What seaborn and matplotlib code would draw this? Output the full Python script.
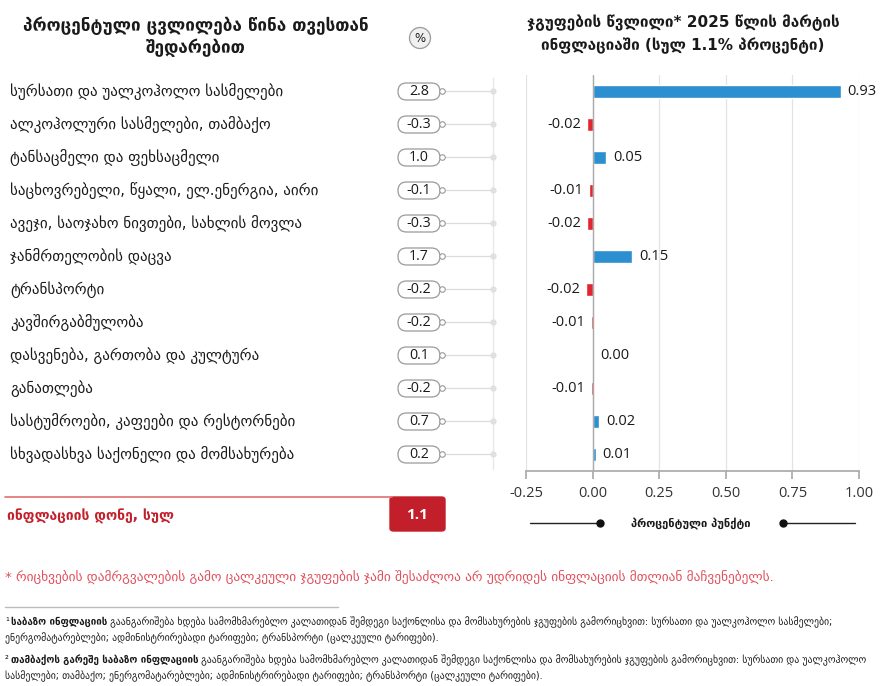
import matplotlib
matplotlib.use("Agg")
import matplotlib.pyplot as plt
from matplotlib.patches import FancyBboxPatch, Circle
from matplotlib.lines import Line2D
import seaborn as sns
import pandas as pd

# ---------------- data ----------------
categories = [
    "სურსათი და უალკოჰოლო სასმელები",
    "ალკოჰოლური სასმელები, თამბაქო",
    "ტანსაცმელი და ფეხსაცმელი",
    "საცხოვრებელი, წყალი, ელ.ენერგია, აირი",
    "ავეჯი, საოჯახო ნივთები, სახლის მოვლა",
    "ჯანმრთელობის დაცვა",
    "ტრანსპორტი",
    "კავშირგაბმულობა",
    "დასვენება, გართობა და კულტურა",
    "განათლება",
    "სასტუმროები, კაფეები და რესტორნები",
    "სხვადასხვა საქონელი და მომსახურება",
]
pct_change = [2.8, -0.3, 1.0, -0.1, -0.3, 1.7, -0.2, -0.2, 0.1, -0.2, 0.7, 0.2]
contribution = [0.931, -0.022, 0.050, -0.014, -0.022, 0.148, -0.024, -0.006, 0.001, -0.006, 0.024, 0.012]
total_inflation = 1.1
x_ticks = [-0.25, 0.0, 0.25, 0.50, 0.75, 1.00]

title_left = ["პროცენტული ცვლილება წინა თვესთან", "შედარებით"]
title_right = ["ჯგუფების წვლილი* 2025 წლის მარტის", "ინფლაციაში (სულ 1.1% პროცენტი)"]
total_label = "ინფლაციის დონე, სულ"
axis_caption = "პროცენტული პუნქტი"
note_red = "* რიცხვების დამრგვალების გამო ცალკეული ჯგუფების ჯამი შესაძლოა არ უდრიდეს ინფლაციის მთლიან მაჩვენებელს."
foot1_bold = "საბაზო ინფლაციის"
foot1_lines = [" გაანგარიშება ხდება სამომხმარებლო კალათიდან შემდეგი საქონლისა და მომსახურების ჯგუფების გამორიცხვით: სურსათი და უალკოჰოლო სასმელები;",
               "ენერგომატარებლები; ადმინისტრირებადი ტარიფები; ტრანსპორტი (ცალკეული ტარიფები)."]
foot2_bold = "თამბაქოს გარეშე საბაზო ინფლაციის"
foot2_lines = [" გაანგარიშება ხდება სამომხმარებლო კალათიდან შემდეგი საქონლისა და მომსახურების ჯგუფების გამორიცხვით: სურსათი და უალკოჰოლო",
               "სასმელები; თამბაქო; ენერგომატარებლები; ადმინისტრირებადი ტარიფები; ტრანსპორტი (ცალკეული ტარიფები)."]

BLUE = "#2b8fd0"
RED = "#e0262e"
DARKRED = "#c21f2b"
TXT = "#1a1a1a"

sns.set_theme(style="white")
plt.rcParams["font.family"] = ["DejaVu Sans"]

W, H = 883, 686
fig = plt.figure(figsize=(W / 100, H / 100), dpi=100)
fig.patch.set_facecolor("white")

def fx(px):
    return px / W

def fy(py):
    return 1 - py / H

ax_top, ax_bot = 75, 471
ax_l_px, ax_r_px = 526, 859

# ---------------- right bar chart ----------------
ax = fig.add_axes([fx(ax_l_px), fy(ax_bot), fx(ax_r_px) - fx(ax_l_px), (ax_bot - ax_top) / H])
df = pd.DataFrame({"cat": categories, "val": contribution,
                   "sign": ["pos" if v >= 0 else "neg" for v in contribution]})
sns.barplot(data=df, y="cat", x="val", hue="sign", order=categories,
            palette={"pos": BLUE, "neg": RED}, dodge=False, width=0.42,
            saturation=1, legend=False, ax=ax, orient="h")
ax.set_xlim(x_ticks[0], x_ticks[-1])
ax.set_ylim(len(categories) - 0.5, -0.5)
ax.set_xticks(x_ticks)
ax.set_xticklabels([f"{t:.2f}" for t in x_ticks], fontfamily="Open Sans", fontsize=10.5, color="#333333")
ax.set_yticks([])
ax.set_xlabel("")
ax.set_ylabel("")
for s in ["top", "right", "left"]:
    ax.spines[s].set_visible(False)
ax.spines["bottom"].set_color("#aaaaaa")
ax.tick_params(axis="x", length=6, color="#aaaaaa", pad=5, bottom=True)
ax.grid(axis="x", color="#e3e3e3", linewidth=0.9)
ax.set_axisbelow(True)
ax.axvline(0, color="#aaaaaa", linewidth=1, zorder=1)
for i, v in enumerate(contribution):
    lab = f"{v:.2f}"
    if v >= 0:
        ax.annotate(lab, (v, i), xytext=(5, 0), textcoords="offset points",
                    ha="left", va="center", fontsize=10.5, fontfamily="Open Sans",
                    color=TXT, annotation_clip=False)
    else:
        ax.annotate(lab, (v, i), xytext=(-4, 0), textcoords="offset points",
                    ha="right", va="center", fontsize=10.5, fontfamily="Open Sans",
                    color=TXT, annotation_clip=False)

# ---------------- left panel ----------------
axl = fig.add_axes([0, fy(ax_bot), fx(ax_l_px), (ax_bot - ax_top) / H])
axl.set_xlim(0, ax_l_px)
axl.set_ylim(len(categories) - 0.5, -0.5)
axl.axis("off")
row_px = (ax_bot - ax_top) / len(categories)
asp = 1 / row_px
axl.plot([493, 493], [-0.4, len(categories) - 0.55], color="#e8e8e8", lw=1, zorder=1)
for i, (c, p) in enumerate(zip(categories, pct_change)):
    axl.text(10, i, c, ha="left", va="center", fontsize=10.8, color=TXT)
    pill = FancyBboxPatch((398, i - 8.5 * asp), 42, 17 * asp,
                          boxstyle="round,pad=0,rounding_size=8.5",
                          mutation_aspect=asp, fc="white", ec="#9a9a9a", lw=0.9, zorder=3)
    axl.add_patch(pill)
    axl.text(419, i, f"{p:.1f}", ha="center", va="center", fontsize=10.3,
             fontfamily="Open Sans", color=TXT, zorder=4)
    axl.plot([443, 493], [i, i], color="#dcdcdc", lw=0.9, zorder=2)
    axl.plot([441.5], [i], marker="o", ms=4, mfc="white", mec="#9a9a9a", mew=0.8, zorder=4)
    axl.plot([493], [i], marker="o", ms=3.5, mfc="#e0e0e0", mec="#e0e0e0", zorder=4)

# ---------------- titles ----------------
fig.text(fx(196), fy(26), title_left[0], ha="center", va="center", fontsize=12.3, fontweight="bold", color=TXT)
fig.text(fx(196), fy(48), title_left[1], ha="center", va="center", fontsize=12.3, fontweight="bold", color=TXT)
fig.text(fx(683), fy(23), title_right[0], ha="center", va="center", fontsize=11, fontweight="bold", color=TXT)
fig.text(fx(683), fy(46), title_right[1], ha="center", va="center", fontsize=11, fontweight="bold", color=TXT)
pct_ax = fig.add_axes([fx(408), fy(50), 24 / W, 24 / H])
pct_ax.set_xlim(0, 24)
pct_ax.set_ylim(0, 24)
pct_ax.axis("off")
pct_ax.add_patch(Circle((12, 12), 10.5, fc="#f0f0f0", ec="#9a9a9a", lw=0.9))
pct_ax.text(12, 12, "%", ha="center", va="center", fontsize=8.5, color=TXT)

# ---------------- total row ----------------
fig.add_artist(Line2D([fx(5), fx(392)], [fy(497), fy(497)], color="#e07070", lw=1.2))
box = FancyBboxPatch((fx(390), fy(531)), fx(445) - fx(390), (531 - 497) / H,
                     boxstyle="round,pad=0,rounding_size=0.004", transform=fig.transFigure,
                     fc=DARKRED, ec=DARKRED)
fig.add_artist(box)
fig.text(fx(417.5), fy(515), f"{total_inflation:.1f}", ha="center", va="center",
         fontsize=11, fontweight="bold", color="white", fontfamily="Open Sans")
fig.text(fx(7), fy(517), total_label, ha="left", va="center", fontsize=10, fontweight="bold", color=DARKRED)

# ---------------- axis caption ----------------
fig.add_artist(Line2D([fx(530), fx(600)], [fy(523), fy(523)], color="#222222", lw=1))
fig.add_artist(Line2D([fx(783), fx(855)], [fy(523), fy(523)], color="#222222", lw=1))
fig.add_artist(Line2D([fx(600)], [fy(523)], marker="o", ms=5, color="#111111", lw=0))
fig.add_artist(Line2D([fx(783)], [fy(523)], marker="o", ms=5, color="#111111", lw=0))
fig.text(fx(691), fy(523), axis_caption, ha="center", va="center", fontsize=8, fontweight="bold", color=TXT)

# ---------------- notes ----------------
fig.text(fx(5), fy(577), note_red, ha="left", va="center", fontsize=9.6, color="#e0505c")
fig.add_artist(Line2D([fx(5), fx(338)], [fy(607), fy(607)], color="#bbbbbb", lw=1))

renderer = fig.canvas.get_renderer()
FS = 7.0

def mixed_line(y_px, sup, bold, rest):
    t0 = fig.text(fx(5), fy(y_px), sup, ha="left", va="center", fontsize=FS, color=TXT)
    bb0 = t0.get_window_extent(renderer)
    t1 = fig.text((bb0.x1 + 2) / W, fy(y_px), bold, ha="left", va="center", fontsize=FS, fontweight="bold", color=TXT)
    bb1 = t1.get_window_extent(renderer)
    fig.text(bb1.x1 / W, fy(y_px), rest, ha="left", va="center", fontsize=FS, color=TXT)

mixed_line(622, "¹", foot1_bold, foot1_lines[0])
fig.text(fx(5), fy(638), foot1_lines[1], ha="left", va="center", fontsize=FS, color=TXT)
mixed_line(660, "²", foot2_bold, foot2_lines[0])
fig.text(fx(5), fy(676), foot2_lines[1], ha="left", va="center", fontsize=FS, color=TXT)

fig.savefig("out.png", dpi=100, facecolor="white")
